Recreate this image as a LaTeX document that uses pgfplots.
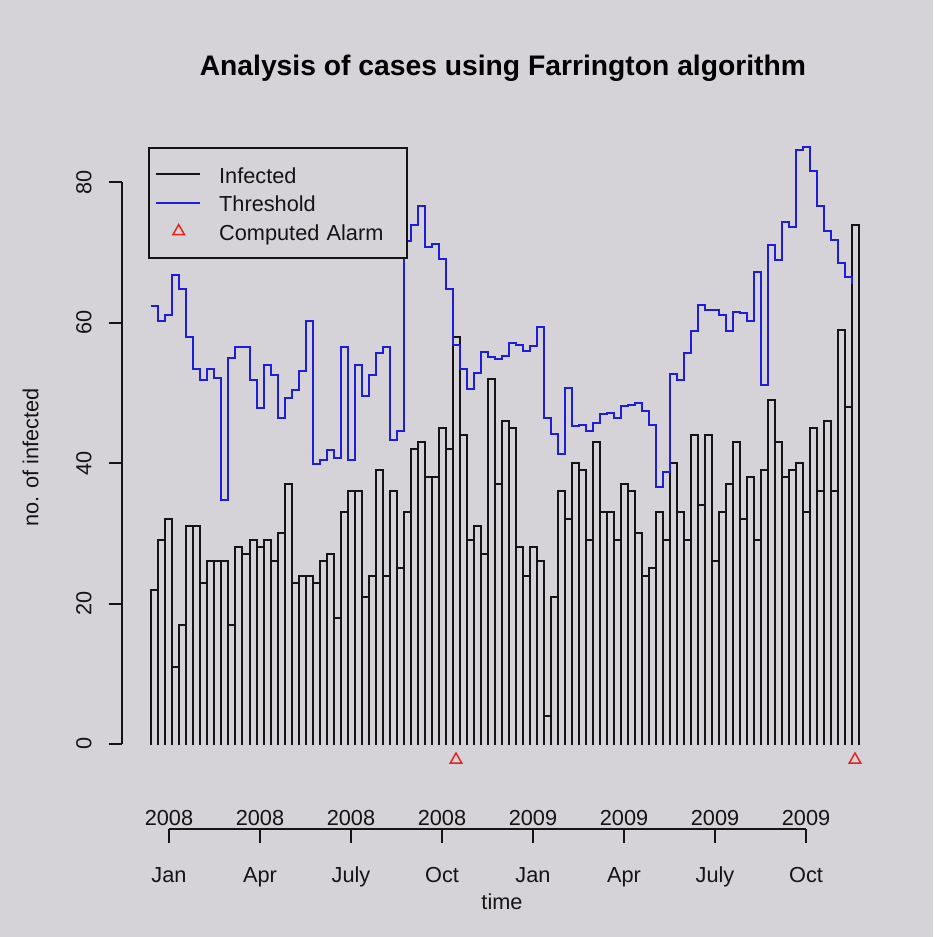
\documentclass[border=0pt]{standalone}
\usepackage{pgfplots}
\pgfplotsset{compat=1.18}
\usepackage{pgfplotstable}
\usepackage{fontspec}
\setmainfont{Liberation Sans}
\definecolor{bg}{RGB}{213,211,215}
\definecolor{thr}{RGB}{30,30,215}
\definecolor{alarm}{RGB}{225,35,35}
\definecolor{ink}{RGB}{20,20,20}
\newcommand{\fs}{\fontsize{16.3}{19.5}\selectfont}

% w = week index, n = infected, t = threshold
\pgfplotstableread{
w n t
1 22 62.4
2 29 60.3
3 32 61.1
4 11 66.8
5 17 64.8
6 31 58.0
7 31 53.4
8 23 51.8
9 26 53.4
10 26 52.2
11 26 34.8
12 17 55.0
13 28 56.5
14 27 56.5
15 29 51.8
16 28 47.9
17 29 54.0
18 26 52.5
19 30 46.5
20 37 49.3
21 23 50.4
22 24 53.1
23 24 60.3
24 23 39.9
25 26 40.5
26 27 41.9
27 18 40.8
28 33 56.5
29 36 40.4
30 36 54.0
31 21 49.6
32 24 52.5
33 39 55.7
34 24 56.5
35 36 43.3
36 25 44.6
37 33 71.7
38 42 73.9
39 43 76.6
40 38 70.8
41 38 71.2
42 45 69.1
43 42 64.8
44 58 56.8
45 44 53.4
46 29 50.6
47 31 52.8
48 27 55.8
49 52 55.2
50 37 54.9
51 46 55.3
52 45 57.1
53 28 56.9
54 24 56.0
55 28 56.7
56 26 59.4
57 4 46.4
58 21 44.2
59 36 41.3
60 32 50.7
61 40 45.3
62 39 45.4
63 29 44.6
64 43 45.8
65 33 47.0
66 33 47.2
67 29 46.4
68 37 48.1
69 36 48.3
70 30 48.6
71 24 47.4
72 25 45.4
73 33 36.6
74 29 38.8
75 40 52.7
76 33 51.9
77 29 55.7
78 44 58.9
79 34 62.6
80 44 61.9
81 26 61.8
82 33 61.1
83 37 58.9
84 43 61.6
85 32 61.4
86 38 60.2
87 29 67.2
88 39 51.2
89 49 71.1
90 43 68.9
91 38 74.3
92 39 73.6
93 40 84.6
94 33 85.1
95 45 81.6
96 36 76.7
97 46 73.1
98 36 71.8
99 59 68.5
100 48 66.5
101 74 65.5
}\surv

\begin{document}
\begin{tikzpicture}
\begin{scope}[x=0.75pt,y=-0.75pt,shift={(-91.5pt,573.75pt)}]
\fill[bg] (0,0) rectangle (933,937);
\end{scope}
\begin{axis}[
  at={(0pt,0pt)}, anchor=south west,
  scale only axis, width=575.25pt, height=468pt,
  xmin=-3.714, xmax=105.857, ymin=-3, ymax=85.91,
  clip=false,
  axis x line=none, axis y line*=left,
  y axis line style={draw=none},
  ytick={0,20,40,60,80},
  tick align=outside, major tick length=10.1pt,
  ytick style={draw=ink, line width=1.5pt},
  yticklabel style={font=\fs, text=ink, xshift=-12.5pt, rotate=90, anchor=south, inner sep=0pt},
  /pgf/number format/assume math mode=true,
  legend cell align=left,
  legend style={
    at={(axis cs:0.043,85.1)}, anchor=north west,
    draw=ink, fill=bg, line width=1.5pt,
    font=\fs, text=ink,
    inner xsep=4.3pt, inner ysep=8.9pt, row sep=-1.1pt,
    nodes={inner sep=0pt, text height=17.8pt, text depth=4.6pt, text width=136.9pt, align=left},
  },
]
% bars: left edges, right edges
\addplot[forget plot, ycomb, draw=ink, line width=1.5pt, line cap=rect, mark=none]
  table[x expr=\thisrow{w}-0.5, y=n] {\surv};
\addplot[forget plot, ycomb, draw=ink, line width=1.5pt, line cap=rect, mark=none]
  table[x expr=\thisrow{w}+0.5, y=n] {\surv};
% bar tops (weeks 1-100 and 2-101)
\addplot[forget plot, const plot mark left, draw=ink, line width=1.5pt, line cap=rect, mark=none]
  table[x expr=\thisrow{w}-0.5, y=n] {\surv};
\addplot[forget plot, const plot mark right, draw=ink, line width=1.5pt, line cap=rect, mark=none]
  table[x expr=\thisrow{w}+0.5, y=n] {\surv};
% threshold
\addplot[forget plot, const plot mark left, draw=thr, line width=1.5pt, mark=none]
  table[x expr=\thisrow{w}-0.5, y=t] {\surv};
% alarms
\addplot[forget plot, only marks, mark=triangle, mark size=5pt, color=alarm, mark options={line width=1.1pt}]
  coordinates {(44,-2.25) (101,-2.25)};

\addlegendimage{legend image code/.code={\draw[ink, line width=1.5pt] (0pt,0pt) -- (32.8pt,0pt); \path (46.6pt,0pt);}}
\addlegendentry{Infected}
\addlegendimage{legend image code/.code={\draw[thr, line width=1.5pt] (0pt,0pt) -- (32.8pt,0pt); \path (46.6pt,0pt);}}
\addlegendentry{Threshold}
\addlegendimage{legend image code/.code={\draw[alarm, line width=1.1pt, mark=triangle, mark size=5pt, only marks] plot coordinates {(17pt,0pt)}; \path (0pt,0pt) (46.6pt,0pt);}}
\addlegendentry{Computed Alarm}

% y axis line
\draw[ink, line width=1.5pt] (axis cs:-3.714,0) -- (axis cs:-3.714,80);
% date axis
\draw[ink, line width=1.5pt] (axis cs:3,-12.15) -- (axis cs:94,-12.15);
\pgfplotsinvokeforeach{3,16,29,42,55,68,81,94}{
  \draw[ink, line width=1.5pt] (axis cs:#1,-12.15) -- (axis cs:#1,-14.06);
}
\pgfplotsinvokeforeach{3,16,29,42}{
  \node[font=\fs, text=ink, anchor=base, inner sep=0pt] at (axis cs:#1,-11.64) {2008};
}
\pgfplotsinvokeforeach{55,68,81,94}{
  \node[font=\fs, text=ink, anchor=base, inner sep=0pt] at (axis cs:#1,-11.64) {2009};
}
\node[font=\fs, text=ink, anchor=base, inner sep=0pt] at (axis cs:3,-19.76) {Jan};
\node[font=\fs, text=ink, anchor=base, inner sep=0pt] at (axis cs:16,-19.76) {Apr};
\node[font=\fs, text=ink, anchor=base, inner sep=0pt] at (axis cs:29,-19.76) {July};
\node[font=\fs, text=ink, anchor=base, inner sep=0pt] at (axis cs:42,-19.76) {Oct};
\node[font=\fs, text=ink, anchor=base, inner sep=0pt] at (axis cs:55,-19.76) {Jan};
\node[font=\fs, text=ink, anchor=base, inner sep=0pt] at (axis cs:68,-19.76) {Apr};
\node[font=\fs, text=ink, anchor=base, inner sep=0pt] at (axis cs:81,-19.76) {July};
\node[font=\fs, text=ink, anchor=base, inner sep=0pt] at (axis cs:94,-19.76) {Oct};
\node[font=\fs, text=ink, anchor=base, inner sep=0pt] at (axis cs:50.57,-23.65) {time};
% y label and title
\node[font=\fs, text=ink, anchor=base, rotate=90, inner sep=0pt] at (axis cs:-15.67,40.82) {no. of infected};
\node[font=\bfseries\fontsize{21.2}{25}\selectfont, text=black, anchor=base, inner sep=0pt] at (axis cs:50.7,95.31) {Analysis of cases using Farrington algorithm};
\end{axis}
\end{tikzpicture}
\end{document}
